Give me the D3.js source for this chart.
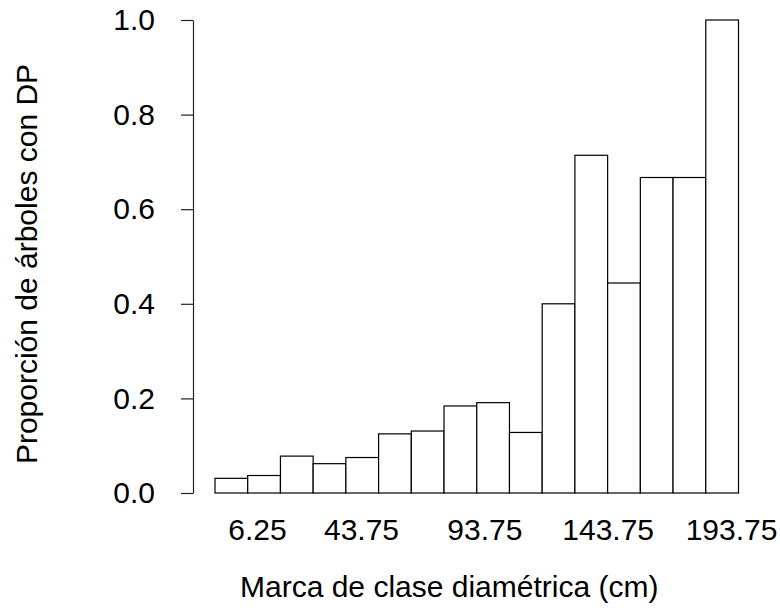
<!DOCTYPE html>
<html>
<head>
<meta charset="utf-8">
<script src="https://cdn.jsdelivr.net/npm/d3@7"></script>
<style>
    body { margin: 0; background: #fff; }
    svg text { font-family: "Liberation Sans", Arial, sans-serif; fill: #000; }
</style>
</head>
<body>
<div id="chart"></div>
<script>
// class marks (cm) and proportion of trees with DP
var class_marks = [6.25, 18.75, 31.25, 43.75, 56.25, 68.75, 81.25, 93.75,
                   106.25, 118.75, 131.25, 143.75, 156.25, 168.75, 181.25, 193.75];
var proportions = [0.031, 0.037, 0.078, 0.062, 0.075, 0.125, 0.131, 0.184,
                   0.191, 0.128, 0.400, 0.714, 0.444, 0.667, 0.667, 1.000];
var label_marks = [6.25, 43.75, 93.75, 143.75, 193.75];
var y_ticks = [0, 0.2, 0.4, 0.6, 0.8, 1.0];

var width = 780, height = 610;
var font_size = 30;

var svg = d3.select('#chart').append('svg')
    .attr('width', width)
    .attr('height', height);

svg.append('rect')
    .attr('width', width)
    .attr('height', height)
    .attr('fill', '#fff');

var x = d3.scaleBand()
    .domain(class_marks)
    .range([215, 738.5])
    .padding(0);

var y = d3.scaleLinear()
    .domain([0, 1])
    .range([493, 20]);

// labels sit on their own scale in the original figure
// (they don't line up with bar centres), so a polylinear scale here
var xlab = d3.scaleLinear()
    .domain([6.25, 43.75, 193.75])
    .range([257, 361, 731]);

// bars
svg.append('g')
    .selectAll('rect')
    .data(class_marks)
    .enter().append('rect')
        .attr('x', d => x(d))
        .attr('y', (d, i) => y(proportions[i]))
        .attr('width', x.bandwidth())
        .attr('height', (d, i) => y(0) - y(proportions[i]))
        .attr('fill', '#fff')
        .attr('stroke', '#000')
        .attr('stroke-width', 1.2);

// y axis
var yaxis = svg.append('g')
    .attr('transform', 'translate(193,0)')
    .call(d3.axisLeft(y)
        .tickValues(y_ticks)
        .tickFormat(d3.format('.1f'))
        .tickSize(12)
        .tickSizeOuter(0)
        .tickPadding(26));

yaxis.select('.domain').attr('stroke', '#222').attr('stroke-width', 1.2);
yaxis.selectAll('.tick line').attr('stroke', '#222').attr('stroke-width', 1.2);
yaxis.selectAll('text')
    .attr('font-size', font_size)
    .attr('font-family', '"Liberation Sans", Arial, sans-serif')
    .attr('fill', '#000');

// x labels (no ticks, no line)
var xaxis = svg.append('g')
    .attr('transform', 'translate(0,519)')
    .call(d3.axisBottom(xlab)
        .tickValues(label_marks)
        .tickFormat(d => d.toFixed(2))
        .tickSize(0)
        .tickPadding(0));

xaxis.select('.domain').remove();
xaxis.selectAll('text')
    .attr('font-size', font_size)
    .attr('font-family', '"Liberation Sans", Arial, sans-serif')
    .attr('fill', '#000');

// axis titles
svg.append('text')
    .attr('x', 240)
    .attr('y', 597)
    .attr('font-size', font_size)
    .text('Marca de clase diamétrica (cm)');

svg.append('text')
    .attr('transform', 'translate(37,264) rotate(-90)')
    .attr('text-anchor', 'middle')
    .attr('font-size', font_size)
    .text('Proporción de árboles con DP');
</script>
</body>
</html>
